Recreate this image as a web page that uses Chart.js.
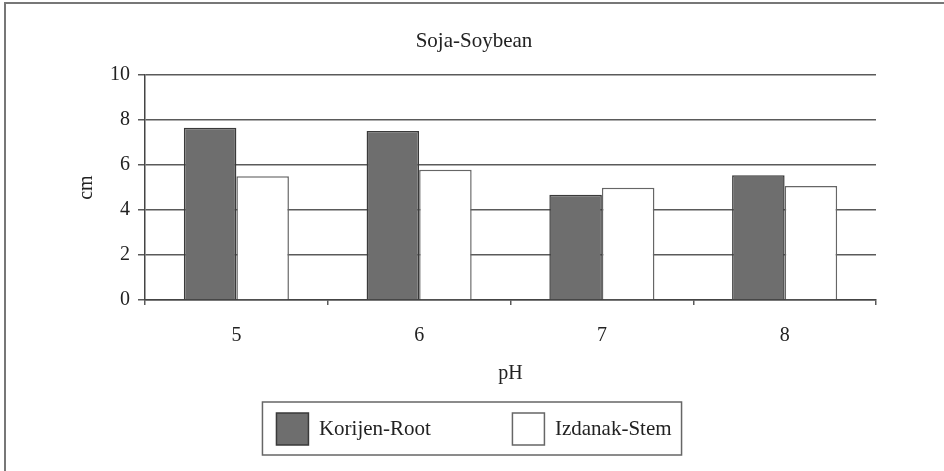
<!DOCTYPE html>
<html>
<head>
<meta charset="utf-8">
<script src="https://cdn.jsdelivr.net/npm/chart.js@4.4.1/dist/chart.umd.min.js"></script>
<style>
  html, body { margin: 0; padding: 0; background: #fff; }
  #wrap { width: 944px; height: 471px; position: relative; }
</style>
</head>
<body>
<div id="wrap"><canvas id="chart"></canvas></div>
<script>
const categories = ['5', '6', '7', '8']
const rootValues = [7.66, 7.52, 4.68, 5.55]
const stemValues = [5.50, 5.79, 4.99, 5.07]
const seriesNames = ['Korijen-Root', 'Izdanak-Stem']
const yTicks = [0, 2, 4, 6, 8, 10]

const serif = "'Liberation Serif', 'Times New Roman', serif"
const ink = '#222'
const lineGray = '#5a5a5a'

// outer frame (only top and left edges show in the original) + legend border
const framePlugin = {
  id: 'frame',
  beforeDraw(chart) {
    // the x axis is kept short so the legend fits; don't clip its labels to it
    if (chart.scales.x) chart.scales.x._computeLabelArea = () => undefined
    const ctx = chart.ctx
    ctx.save()
    ctx.fillStyle = '#fff'
    ctx.fillRect(0, 0, chart.width, chart.height)
    ctx.strokeStyle = '#777'
    ctx.lineWidth = 2
    ctx.beginPath()
    ctx.moveTo(5, chart.height)
    ctx.lineTo(5, 3)
    ctx.lineTo(chart.width, 3)
    ctx.stroke()
    ctx.restore()
  },
  afterDraw(chart) {
    const boxes = chart.legend && chart.legend.legendHitBoxes
    if (!boxes || !boxes.length) return
    const first = boxes[0]
    const last = boxes[boxes.length - 1]
    const ctx = chart.ctx
    ctx.save()
    ctx.strokeStyle = '#666'
    ctx.lineWidth = 1.5
    ctx.strokeRect(first.left - 14, first.top - 11,
      last.left + last.width + 10 - (first.left - 14), first.height + 21)
    ctx.restore()
  }
}

new Chart(document.getElementById('chart'), {
  type: 'bar',
  data: {
    labels: categories,
    datasets: [
      {
        label: seriesNames[0],
        data: rootValues,
        backgroundColor: '#6e6e6e',
        borderColor: '#3a3a3a',
        borderWidth: 1.5
      },
      {
        label: seriesNames[1],
        data: stemValues,
        backgroundColor: '#ffffff',
        borderColor: '#666',
        borderWidth: 1.5
      }
    ]
  },
  options: {
    responsive: true,
    maintainAspectRatio: false,
    animation: false,
    categoryPercentage: 0.575,
    barPercentage: 1,
    layout: {
      padding: { top: 0, left: 72, right: 68, bottom: 16 }
    },
    plugins: {
      title: {
        display: true,
        text: 'Soja-Soybean',
        color: ink,
        font: { family: serif, size: 21, weight: 'normal' },
        padding: { top: 29, bottom: 21 }
      },
      legend: {
        position: 'bottom',
        labels: {
          color: ink,
          font: { family: serif, size: 21 },
          boxWidth: 32,
          boxHeight: 32,
          padding: 81.5
        }
      },
      tooltip: { enabled: false }
    },
    scales: {
      x: {
        grid: {
          offset: true,
          color: ctx => (ctx.index === categories.length ? lineGray : 'transparent'),
          tickColor: lineGray,
          tickLength: 5,
          lineWidth: 1.5
        },
        border: { display: true, color: '#444', width: 1.5 },
        ticks: {
          color: ink,
          font: { family: serif, size: 20 },
          padding: 19
        },
        title: {
          display: true,
          text: 'pH',
          color: ink,
          font: { family: serif, size: 20 },
          padding: { top: 0, bottom: -54 }
        },
        afterFit(scale) { scale.height = 31.5 }
      },
      y: {
        min: 0,
        max: 10,
        afterBuildTicks(scale) { scale.ticks = yTicks.map(v => ({ value: v })) },
        grid: {
          color: lineGray,
          lineWidth: 1.5,
          tickLength: 7
        },
        border: { display: true, color: '#444', width: 1.5 },
        ticks: {
          color: ink,
          font: { family: serif, size: 20 },
          padding: 8
        },
        title: {
          display: true,
          text: 'cm',
          color: ink,
          font: { family: serif, size: 20 },
          padding: { top: 3, bottom: 0 }
        },
        afterFit(scale) { scale.width = 73 }
      }
    }
  },
  plugins: [framePlugin]
})
</script>
</body>
</html>
